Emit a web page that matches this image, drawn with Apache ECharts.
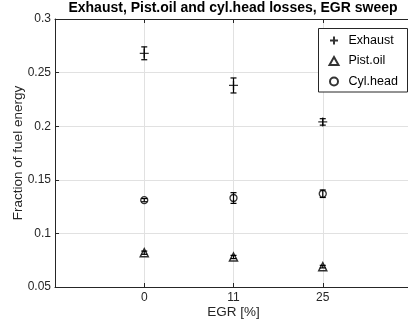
<!DOCTYPE html>
<html>
<head>
<meta charset="utf-8">
<script src="https://cdn.jsdelivr.net/npm/echarts@6/dist/echarts.min.js"></script>
<style>
html,body{margin:0;padding:0;background:#fff;}
#chart{width:408px;height:323px;}
</style>
</head>
<body>
<div id="chart"></div>
<script>
// ---- data ----
const categories = ['0', '11', '25'];           // EGR [%]
const exhaustMean = [0.268, 0.238, 0.204];
const exhaustErr  = [0.006, 0.007, 0.003];
const pistOilMean = [0.082, 0.078, 0.069];
const pistOilErr  = [0.0015, 0.0015, 0.0012];
const cylHeadMean = [0.131, 0.133, 0.137];
const cylHeadErr  = [0.0015, 0.005, 0.0035];
const yTicks = [0.05, 0.1, 0.15, 0.2, 0.25, 0.3];

const FONT = '"Liberation Sans", Arial, Helvetica, sans-serif';
const AX = '#262626';
const GRIDC = '#e1e1e1';

function pts(mean) { return mean.map((v, i) => [i, v]); }
function errPts(mean, err) { return mean.map((v, i) => [i, v, err[i]]); }

function errorBarRender(params, api) {
  const x = api.value(0), m = api.value(1), e = api.value(2);
  const lo = api.coord([x, m - e]);
  const hi = api.coord([x, m + e]);
  const cap = 3;
  const st = { stroke: '#000', lineWidth: 1.2 };
  return {
    type: 'group',
    children: [
      { type: 'line', shape: { x1: lo[0], y1: lo[1], x2: hi[0], y2: hi[1] }, style: st },
      { type: 'line', shape: { x1: lo[0] - cap, y1: lo[1], x2: lo[0] + cap, y2: lo[1] }, style: st },
      { type: 'line', shape: { x1: hi[0] - cap, y1: hi[1], x2: hi[0] + cap, y2: hi[1] }, style: st }
    ]
  };
}

const plusPath = 'path://M0,5 L10,5 M5,0 L5,10';

const chart = echarts.init(document.getElementById('chart'), null, { renderer: 'canvas' });

const option = {
  animation: false,
  backgroundColor: '#fff',
  title: {
    text: 'Exhaust, Pist.oil and cyl.head losses, EGR sweep',
    left: 233,
    textAlign: 'center',
    top: 1,
    padding: 0,
    textStyle: { fontFamily: FONT, fontSize: 14, fontWeight: 'bold', color: '#000' }
  },
  grid: { left: 55, top: 19, width: 357, height: 268, containLabel: false, outerBoundsMode: 'none' },
  xAxis: [{
    type: 'value',
    min: -1, max: 3, interval: 1,
    position: 'bottom',
    name: 'EGR [%]',
    nameLocation: 'middle',
    nameGap: 18,
    nameMoveOverlap: false,
    nameTextStyle: { fontFamily: FONT, fontSize: 13.5, color: AX },
    axisLine: { show: true, onZero: false, lineStyle: { color: AX, width: 1 } },
    axisTick: { show: true, inside: true, length: 4, lineStyle: { color: AX } },
    axisLabel: {
      margin: 5, fontFamily: FONT, fontSize: 12, color: AX,
      formatter: v => (v >= 0 && v < categories.length) ? categories[v] : ''
    },
    splitLine: { show: true, lineStyle: { color: GRIDC, width: 1 } }
  }, {
    type: 'value',
    min: -1, max: 3, interval: 1,
    position: 'top',
    axisLine: { show: true, onZero: false, lineStyle: { color: AX, width: 1 } },
    axisTick: { show: true, inside: true, length: 4, lineStyle: { color: AX } },
    axisLabel: { show: false },
    splitLine: { show: false }
  }],
  yAxis: [{
    type: 'value',
    min: yTicks[0], max: yTicks[yTicks.length - 1], interval: 0.05,
    name: 'Fraction of fuel energy',
    nameLocation: 'middle',
    nameGap: 30,
    nameMoveOverlap: false,
    nameTextStyle: { fontFamily: FONT, fontSize: 13.5, color: AX },
    axisLine: { show: true, onZero: false, lineStyle: { color: AX, width: 1 } },
    axisTick: { show: true, inside: true, length: 4, lineStyle: { color: AX } },
    axisLabel: { margin: 4, fontFamily: FONT, fontSize: 12, color: AX },
    splitLine: { show: true, lineStyle: { color: GRIDC, width: 1 } }
  }, {
    type: 'value',
    position: 'right',
    min: yTicks[0], max: yTicks[yTicks.length - 1], interval: 0.05,
    axisLine: { show: true, onZero: false, lineStyle: { color: AX } },
    axisTick: { show: true, inside: true, length: 4 },
    axisLabel: { show: false },
    splitLine: { show: false }
  }],
  legend: {
    orient: 'vertical',
    left: 327,
    top: 34,
    padding: 0,
    itemWidth: 9,
    itemHeight: 8,
    itemGap: 7.5,
    z: 10,
    textStyle: { fontFamily: FONT, fontSize: 12.5, color: '#000', padding: [0, 0, 0, 5] },
    data: [
      { name: 'Exhaust', icon: plusPath },
      { name: 'Pist.oil', icon: 'triangle' },
      { name: 'Cyl.head', icon: 'circle' }
    ]
  },
  graphic: [{
    type: 'rect',
    z: 5,
    shape: { x: 318.5, y: 28.5, width: 89, height: 63.5 },
    style: { fill: '#fff', stroke: AX, lineWidth: 1 }
  }],
  series: [
    {
      name: 'Exhaust', type: 'scatter', data: pts(exhaustMean),
      symbol: plusPath, symbolSize: 9,
      itemStyle: { color: 'none', borderColor: '#000', borderWidth: 1.3 },
      z: 4
    },
    {
      name: 'Pist.oil', type: 'scatter', data: pts(pistOilMean),
      symbol: 'triangle', symbolSize: 8,
      itemStyle: { color: 'none', borderColor: '#000', borderWidth: 1.5 },
      z: 4
    },
    {
      name: 'Cyl.head', type: 'scatter', data: pts(cylHeadMean),
      symbol: 'circle', symbolSize: 7,
      itemStyle: { color: 'none', borderColor: '#000', borderWidth: 1.3 },
      z: 4
    },
    { name: 'ExhaustErr', type: 'custom', data: errPts(exhaustMean, exhaustErr), renderItem: errorBarRender, z: 3 },
    { name: 'PistOilErr', type: 'custom', data: errPts(pistOilMean, pistOilErr), renderItem: errorBarRender, z: 3 },
    { name: 'CylHeadErr', type: 'custom', data: errPts(cylHeadMean, cylHeadErr), renderItem: errorBarRender, z: 3 }
  ]
};
chart.setOption(option);
</script>
</body>
</html>
